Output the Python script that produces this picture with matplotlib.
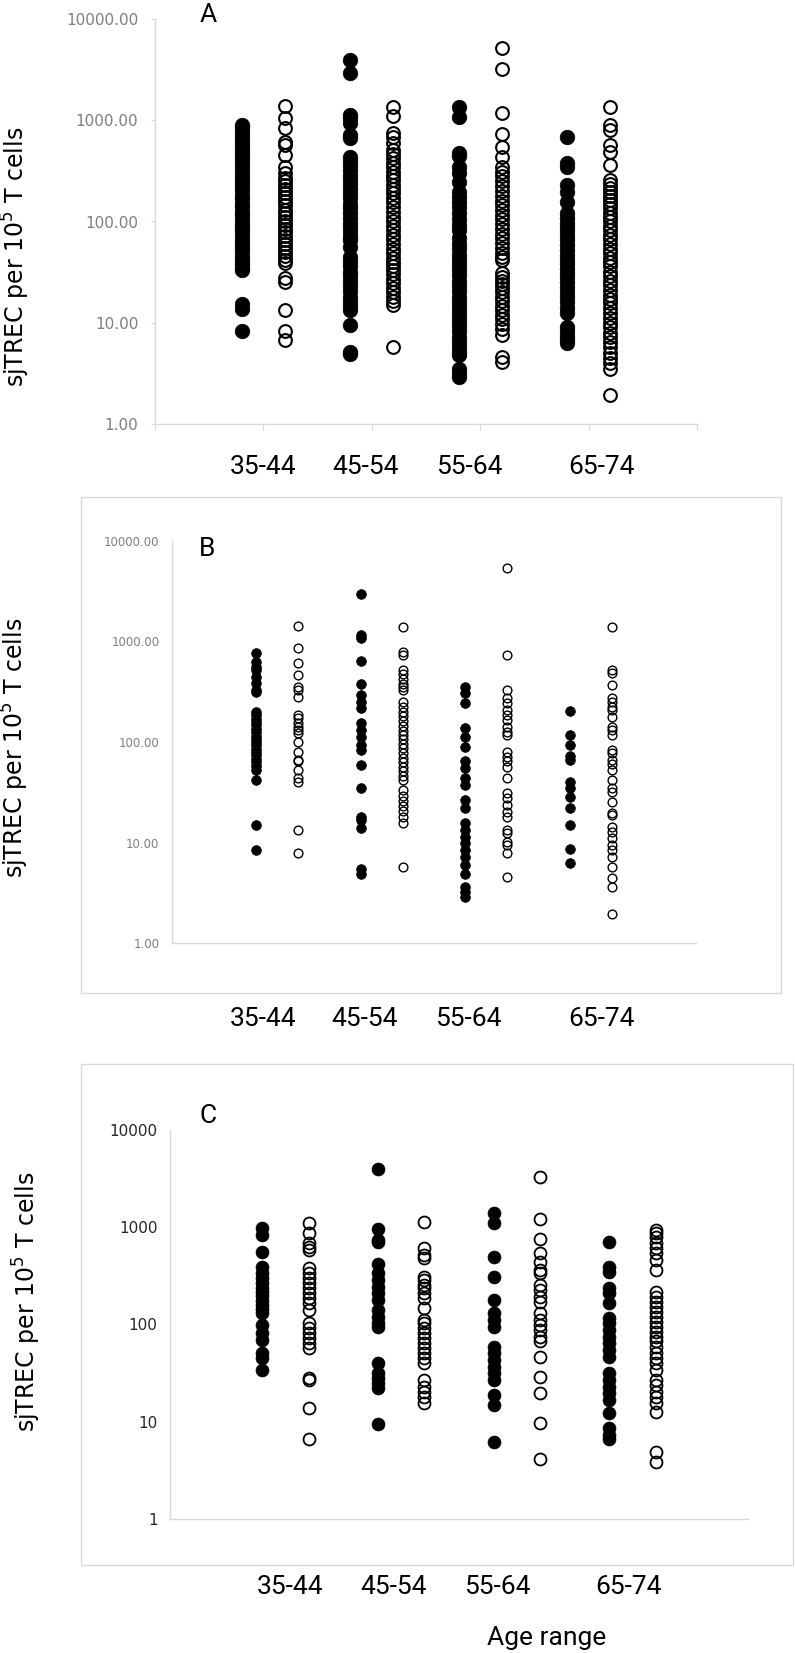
import matplotlib
matplotlib.use("Agg")
import matplotlib.pyplot as plt
from matplotlib.patches import Rectangle

age_ranges = ["35-44", "45-54", "55-64", "65-74"]

# panel A (all subjects) - filled / open groups per age range
a_filled = [
    [900, 850, 780, 720, 650, 600, 550, 500, 460, 420, 390, 350, 320, 290, 260, 240,
     220, 200, 180, 165, 150, 140, 125, 115, 105, 95, 88, 80, 72, 65, 60, 55, 50, 45,
     42, 38, 35, 33, 15.2, 13.8, 8.3],
    [3936, 2906, 1127, 1050, 933, 715, 663, 437, 400, 360, 320, 290, 260, 235, 210, 190,
     170, 150, 135, 120, 108, 97, 88, 78, 70, 65.7, 56.4, 45, 40, 36, 32, 29, 26, 23,
     20.5, 18, 16, 14.5, 13.4, 9.5, 5.2, 4.9],
    [1361, 1069, 479, 440, 348, 299, 247, 197, 175, 155, 138, 120, 105, 92, 82, 68, 60,
     53, 47, 42, 37, 33, 29.5, 26, 23, 20.5, 18, 16, 14.3, 12.8, 11.5, 10.3, 9.2, 8.2,
     7.3, 6.5, 5.8, 5.2, 4.8, 3.5, 3.2, 2.9],
    [689, 375, 348, 229, 197, 157, 120, 108, 97, 88, 80, 72, 65, 58, 52, 47, 42, 38, 34,
     31, 28, 25, 22.5, 20, 18, 16, 14, 12.4, 9.1, 8.2, 7.4, 6.8, 6.3],
]
a_open = [
    [1393, 1045, 845, 615, 570, 454, 348, 299, 270, 250, 230, 210, 190, 175, 160, 145,
     130, 120, 110, 100, 92, 85, 78, 72, 66, 60, 55, 50, 46, 42, 38.6, 27.5, 25.5, 13.4,
     8.2, 6.8],
    [1361, 1102, 743, 689, 592, 508, 460, 420, 380, 345, 310, 280, 255, 230, 210, 190,
     170, 155, 140, 125, 112, 100, 90, 82, 74, 67, 60, 54, 49, 44, 40, 36, 33, 30, 27,
     24.5, 22, 20, 18, 16.5, 15, 5.7],
    [5212, 3184, 1188, 731, 548, 437, 348, 310, 280, 250, 225, 200, 180, 160, 145, 130,
     117, 105, 95, 85, 76, 68, 61, 55, 49, 45, 41.7, 30.8, 28.5, 26, 24, 22, 20, 18,
     16.5, 14.8, 13.3, 12, 10.8, 9.7, 8.7, 7.6, 4.6, 4.1],
    [1361, 898, 801, 570, 490, 361, 257, 235, 215, 195, 178, 162, 148, 135, 122, 110,
     100, 90, 82, 74, 67, 60, 54, 49, 44, 40, 36, 32, 29, 26, 23.5, 21, 19, 17, 15.5,
     14, 12.5, 11.2, 10, 9, 8, 7.2, 6.4, 5.7, 5, 4.5, 4, 3.5, 1.93],
]

# panel B
b_filled = [
    [762, 630, 562, 520, 447, 384, 329, 317, 200, 185, 170, 158, 146, 135, 125, 116,
     108, 100, 93, 86, 80, 74, 68, 63, 58, 52.6, 41.9, 14.9, 8.4],
    [2943, 1161, 1076, 645, 378, 294, 252, 216, 153, 132, 113, 93, 83, 59, 34.6, 18.1,
     16.7, 13.8, 5.4, 4.9],
    [356, 305, 243, 137, 113, 90, 64, 55, 43.5, 37.3, 26.5, 21.9, 15.5, 13.3, 11.4, 9.8,
     8.4, 7.2, 6.0, 4.9, 3.6, 3.2, 2.9],
    [203, 117, 93, 73, 66, 40.3, 34.6, 28.6, 21.9, 14.9, 8.7, 6.3],
]
b_open = [
    [1426, 855, 607, 464, 356, 329, 283, 186, 172, 153, 142, 132, 122, 101, 80, 66, 64,
     52.6, 43.5, 40.3, 13.3, 7.9],
    [1384, 792, 734, 520, 470, 420, 380, 350, 329, 252, 225, 200, 180, 160, 145, 130,
     118, 106, 96, 87, 78, 70, 63, 57, 51, 46, 41.9, 33, 29, 26, 23, 20.5, 18, 15.5, 5.7],
    [5346, 734, 329, 272, 243, 208, 186, 166, 142, 127, 117, 80, 71, 64, 57, 43.5, 30.8,
     27.5, 23.6, 20.3, 18.1, 13.3, 12.3, 10.2, 9.4, 7.8, 4.5],
    [1384, 520, 482, 369, 272, 252, 225, 208, 179, 142, 132, 117, 83, 77, 66, 61, 52.6,
     41.9, 34.6, 32, 25.5, 19.5, 18.8, 14.4, 12.8, 11, 9.4, 8.4, 7.2, 5.7, 4.4, 3.6, 1.95],
]

# panel C
c_filled = [
    [975, 832, 561, 393, 336, 300, 270, 240, 215, 195, 175, 158, 143, 130, 99, 81, 69,
     50.6, 44.9, 34],
    [3972, 952, 740, 711, 419, 336, 287, 245, 209, 179, 141, 120, 103, 95, 40.5, 31.5,
     27.9, 24.8, 22.1, 9.5],
    [1390, 1096, 499, 310, 179, 130, 111, 95, 59, 50.6, 43.2, 36.8, 31.5, 26.9, 18.8,
     14.9, 6.2],
    [711, 393, 349, 235, 209, 165, 116, 103, 88, 75, 64, 54.7, 46.7, 31.5, 26.9, 23,
     19.6, 16.7, 12.2, 8.6, 7.3, 6.7],
]
c_open = [
    [1096, 866, 683, 631, 583, 378, 336, 298, 265, 235, 209, 186, 165, 141, 103, 91, 81,
     72, 64, 57, 27.9, 26.9, 13.7, 6.7],
    [1124, 617, 518, 479, 310, 287, 255, 235, 209, 186, 147, 111, 103, 91, 81, 72, 64,
     57, 50.6, 44.9, 39.9, 26.9, 23, 20.4, 18.1, 15.5],
    [3263, 1206, 751, 540, 443, 363, 336, 255, 226, 193, 172, 130, 111, 99, 88, 75, 67,
     46.7, 28.6, 19.6, 9.6, 4.1],
    [937, 866, 800, 683, 607, 540, 460, 363, 218, 193, 172, 152, 136, 120, 107, 95, 84,
     75, 67, 59, 50.6, 44.9, 39.9, 34, 26.9, 23.9, 20.4, 18.1, 15.5, 12.7, 4.9, 3.9],
]

W, H = 795, 1653
narrow = ["Roboto", "DejaVu Sans"]
grey_line = "#d9d9d9"


def fig_rect(left, top, right, bottom):
    return [left / W, 1 - bottom / H, (right - left) / W, (bottom - top) / H]


def draw_panel(ax, filled, opened, ms_f, ms_o, mew, lab_pos, lab_y, tick_fs,
               tick_color, tick_fmt, xticks):
    ax.set_yscale("log")
    ax.set_ylim(1, 10000)
    ax.set_xlim(0, 5)
    for k in range(4):
        xf = [k + 1 - 0.2] * len(filled[k])
        xo = [k + 1 + 0.2] * len(opened[k])
        ax.plot(xf, filled[k], "o", ms=ms_f, mfc="black", mec="black", mew=0.5,
                ls="none")
        ax.plot(xo, opened[k], "o", ms=ms_o, mfc="none", mec="black", mew=mew,
                ls="none")
    for s in ["top", "right"]:
        ax.spines[s].set_visible(False)
    for s in ["left", "bottom"]:
        ax.spines[s].set_color(grey_line)
        ax.spines[s].set_linewidth(1.0)
    ax.set_yticks([1, 10, 100, 1000, 10000])
    ax.set_yticklabels([tick_fmt.format(v) for v in [1, 10, 100, 1000, 10000]])
    ax.minorticks_off()
    if xticks:
        ax.set_xticks([0, 1, 2, 3, 4, 5])
        ax.tick_params(axis="x", length=4, color=grey_line, labelbottom=False)
        ax.tick_params(axis="y", length=3, color=grey_line)
    else:
        ax.set_xticks([])
        ax.tick_params(axis="y", length=0)
    ax.tick_params(axis="y", labelsize=tick_fs, labelcolor=tick_color, pad=9)
    tr = ax.get_xaxis_transform()
    for xp, lab in zip(lab_pos, age_ranges):
        ax.text(xp, lab_y, lab, transform=tr, ha="center", va="center",
                fontsize=19, family=narrow, clip_on=False)


fig = plt.figure(figsize=(W / 100, H / 100), dpi=100)

# frames around panels B and C
fig.patches.append(Rectangle((81 / W, 1 - 993 / H), 700 / W, 496 / H,
                             transform=fig.transFigure, fill=False,
                             ec=grey_line, lw=1.0))
fig.patches.append(Rectangle((81 / W, 1 - 1565 / H), 712 / W, 501 / H,
                             transform=fig.transFigure, fill=False,
                             ec=grey_line, lw=1.0))

ax_a = fig.add_axes(fig_rect(155, 19, 697, 424))
draw_panel(ax_a, a_filled, a_open, 10.5, 9.2, 1.5, [1.0, 1.94, 2.9, 4.12], -0.106,
           11, "#7f7f7f", "{:.2f}", True)

ax_b = fig.add_axes(fig_rect(172, 541, 696, 943))
draw_panel(ax_b, b_filled, b_open, 7.0, 6.3, 1.0, [0.87, 1.84, 2.83, 4.10], -0.189,
           8.5, "#7f7f7f", "{:.2f}", False)

ax_c = fig.add_axes(fig_rect(170, 1130, 748, 1519))
draw_panel(ax_c, c_filled, c_open, 9.3, 8.6, 1.3, [1.04, 1.93, 2.83, 3.97], -0.175,
           11, "#262626", "{:.0f}", False)

ylab = "sjTREC per 10$^5$ T cells"
for x, y in [(16, 257), (15, 748), (27, 1302)]:
    fig.text(x / W, 1 - y / H, ylab, rotation=90, ha="center", va="center",
             fontsize=17, family="DejaVu Sans")

for lab, x, y in [("A", 208, 15), ("B", 207, 549), ("C", 208, 1116)]:
    fig.text(x / W, 1 - y / H, lab, ha="center", va="center", fontsize=19,
             family=narrow)

fig.text(547 / W, 1 - 1638 / H, "Age range", ha="center", va="center", fontsize=19,
         family=narrow)

fig.savefig("out.png", dpi=100)
